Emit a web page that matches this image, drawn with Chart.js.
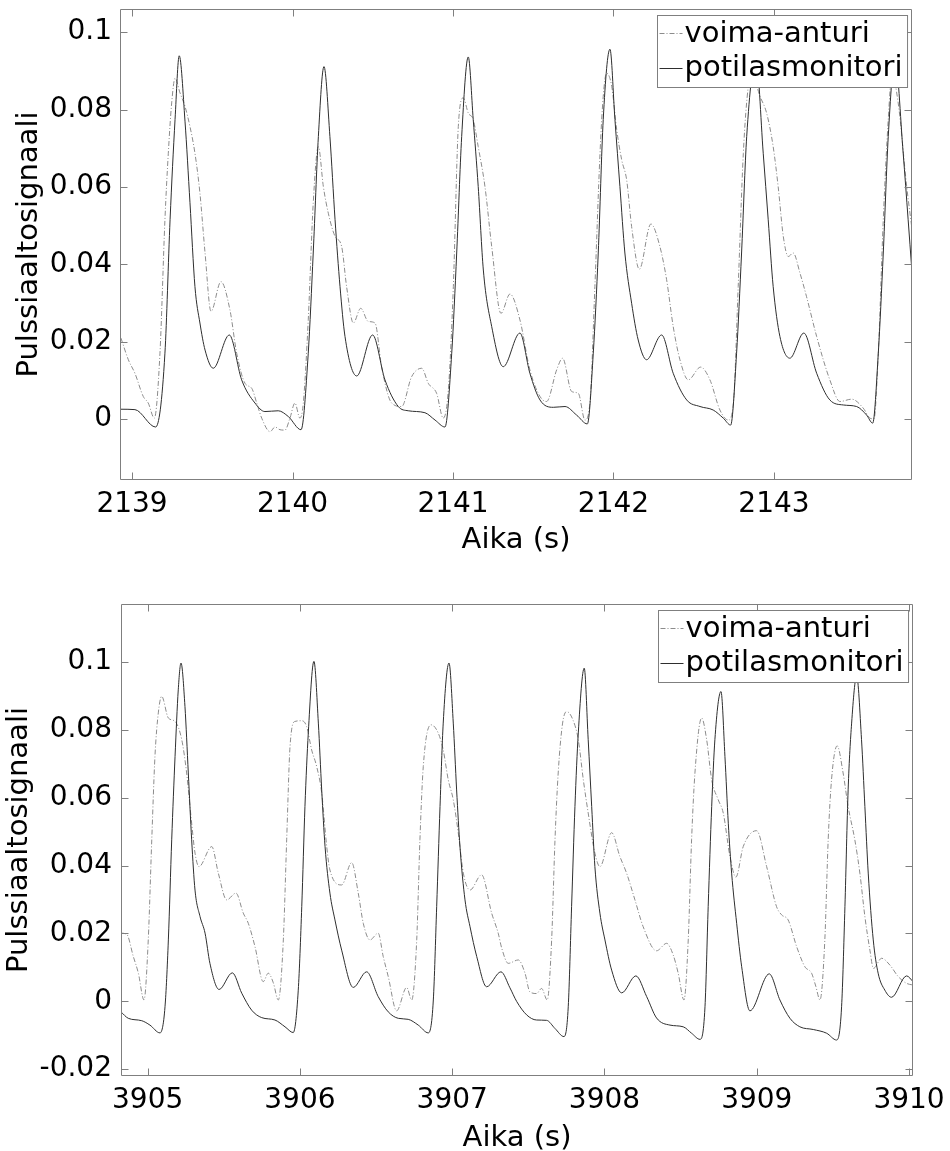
<!DOCTYPE html>
<html>
<head>
<meta charset="utf-8">
<script src="https://cdn.jsdelivr.net/npm/chart.js@4.4.0/dist/chart.umd.min.js"></script>
<style>
  html, body { margin: 0; padding: 0; background: #fff; }
  #wrap { position: relative; width: 950px; height: 1151px; }
  canvas { position: absolute; left: 0; }
</style>
</head>
<body>
<div id="wrap">
  <canvas id="chartTop" width="950" height="575" style="top:0"></canvas>
  <canvas id="chartBottom" width="950" height="576" style="top:575px"></canvas>
</div>
<script>
// Series names (legend)
const seriesLabels = ['voima-anturi', 'potilasmonitori'];

// Top panel, time axis ticks and value ticks
const topXTicks = [2139, 2140, 2141, 2142, 2143];
const topYTicks = [0, 0.02, 0.04, 0.06, 0.08, 0.1];

// Top panel, voima-anturi (dash-dot)
const topSensorT = [2138.931, 2138.977, 2139.018, 2139.070, 2139.101, 2139.139, 2139.174, 2139.205, 2139.226, 2139.247,
  2139.268, 2139.299, 2139.330, 2139.361, 2139.392, 2139.423, 2139.455, 2139.492, 2139.554, 2139.610,
  2139.652, 2139.704, 2139.746, 2139.777, 2139.808, 2139.860, 2139.891, 2139.922, 2139.953, 2139.984,
  2140.015, 2140.046, 2140.067, 2140.098, 2140.129, 2140.161, 2140.192, 2140.223, 2140.265, 2140.306,
  2140.337, 2140.379, 2140.425, 2140.472, 2140.514, 2140.555, 2140.618, 2140.680, 2140.742, 2140.805,
  2140.846, 2140.898, 2140.939, 2140.971, 2141.002, 2141.033, 2141.064, 2141.095, 2141.126, 2141.157,
  2141.199, 2141.241, 2141.299, 2141.355, 2141.417, 2141.479, 2141.542, 2141.583, 2141.646, 2141.683,
  2141.739, 2141.781, 2141.822, 2141.853, 2141.884, 2141.916, 2141.936, 2141.957, 2141.989, 2142.020,
  2142.051, 2142.082, 2142.113, 2142.161, 2142.233, 2142.289, 2142.331, 2142.372, 2142.414, 2142.466,
  2142.543, 2142.601, 2142.663, 2142.715, 2142.747, 2142.777, 2142.809, 2142.840, 2142.863, 2142.913,
  2142.954, 2142.995, 2143.026, 2143.058, 2143.089, 2143.120, 2143.162, 2143.203, 2143.266, 2143.348,
  2143.411, 2143.484, 2143.556, 2143.598, 2143.623, 2143.650, 2143.681, 2143.712, 2143.735, 2143.774,
  2143.827, 2143.858];
const topSensorV = [0.0209, 0.0153, 0.0118, 0.0058, 0.0041, 0.0002, 0.0170, 0.0515, 0.0687, 0.0817,
  0.0881, 0.0843, 0.0808, 0.0756, 0.0687, 0.0584, 0.0429, 0.0278, 0.0355, 0.0282,
  0.0170, 0.0092, 0.0079, 0.0041, 0.0002, -0.0033, -0.0021, -0.0028, -0.0029, 0.0002,
  0.0041, 0.0002, 0.0040, 0.0256, 0.0558, 0.0704, 0.0601, 0.0532, 0.0472, 0.0446,
  0.0342, 0.0248, 0.0286, 0.0252, 0.0248, 0.0135, 0.0041, 0.0032, 0.0109, 0.0131,
  0.0092, 0.0066, 0.0002, 0.0075, 0.0342, 0.0756, 0.0830, 0.0791, 0.0774, 0.0704,
  0.0601, 0.0446, 0.0273, 0.0323, 0.0256, 0.0127, 0.0058, 0.0045, 0.0127, 0.0157,
  0.0071, 0.0066, -0.0003, 0.0041, 0.0342, 0.0687, 0.0834, 0.0894, 0.0860, 0.0748,
  0.0670, 0.0618, 0.0497, 0.0387, 0.0504, 0.0446, 0.0360, 0.0239, 0.0153, 0.0101,
  0.0134, 0.0101, 0.0023, -0.0003, 0.0040, 0.0342, 0.0687, 0.0860, 0.0890, 0.0834,
  0.0791, 0.0704, 0.0601, 0.0472, 0.0420, 0.0429, 0.0377, 0.0316, 0.0213, 0.0101,
  0.0045, 0.0051, 0.0028, 0.0002, 0.0000, 0.0170, 0.0515, 0.0774, 0.0890, 0.0817,
  0.0601, 0.0497];

// Top panel, potilasmonitori (solid)
const topMonitorT = [2138.931, 2139.018, 2139.147, 2139.205, 2139.237, 2139.268, 2139.294, 2139.330, 2139.361, 2139.392,
  2139.423, 2139.455, 2139.506, 2139.606, 2139.683, 2139.766, 2139.828, 2139.911, 2139.974, 2140.053,
  2140.098, 2140.129, 2140.161, 2140.196, 2140.233, 2140.265, 2140.296, 2140.327, 2140.400, 2140.499,
  2140.576, 2140.659, 2140.721, 2140.825, 2140.888, 2140.950, 2140.992, 2141.023, 2141.054, 2141.095,
  2141.126, 2141.157, 2141.189, 2141.241, 2141.313, 2141.417, 2141.479, 2141.542, 2141.625, 2141.698,
  2141.770, 2141.837, 2141.874, 2141.905, 2141.936, 2141.978, 2142.009, 2142.040, 2142.071, 2142.113,
  2142.154, 2142.206, 2142.300, 2142.372, 2142.456, 2142.539, 2142.621, 2142.684, 2142.730, 2142.767,
  2142.798, 2142.830, 2142.888, 2142.933, 2142.964, 2142.995, 2143.037, 2143.099, 2143.186, 2143.266,
  2143.348, 2143.432, 2143.515, 2143.577, 2143.615, 2143.650, 2143.681, 2143.712, 2143.754, 2143.805,
  2143.836, 2143.859];
const topMonitorV = [0.0025, 0.0024, -0.0021, 0.0170, 0.0515, 0.0774, 0.0939, 0.0770, 0.0559, 0.0342,
  0.0248, 0.0178, 0.0131, 0.0217, 0.0101, 0.0041, 0.0019, 0.0021, 0.0006, -0.0028,
  0.0170, 0.0429, 0.0730, 0.0911, 0.0730, 0.0515, 0.0342, 0.0213, 0.0111, 0.0217,
  0.0101, 0.0032, 0.0021, 0.0016, -0.0003, -0.0021, 0.0170, 0.0429, 0.0730, 0.0936,
  0.0774, 0.0601, 0.0385, 0.0239, 0.0135, 0.0222, 0.0118, 0.0049, 0.0030, 0.0032,
  0.0010, -0.0013, 0.0170, 0.0429, 0.0774, 0.0956, 0.0774, 0.0601, 0.0429, 0.0299,
  0.0204, 0.0153, 0.0217, 0.0118, 0.0049, 0.0032, 0.0023, 0.0002, -0.0016, 0.0170,
  0.0429, 0.0730, 0.0930, 0.0687, 0.0515, 0.0342, 0.0213, 0.0157, 0.0222, 0.0118,
  0.0049, 0.0036, 0.0032, 0.0010, -0.0011, 0.0170, 0.0429, 0.0730, 0.0930, 0.0687,
  0.0515, 0.0385];

// Bottom panel ticks
const bottomXTicks = [3905, 3906, 3907, 3908, 3909, 3910];
const bottomYTicks = [-0.02, 0, 0.02, 0.04, 0.06, 0.08, 0.1];

// Bottom panel, voima-anturi (dash-dot)
const bottomSensorT = [3904.825, 3904.862, 3904.906, 3904.939, 3904.976, 3905.004, 3905.027, 3905.048, 3905.070, 3905.092,
  3905.136, 3905.180, 3905.224, 3905.256, 3905.289, 3905.311, 3905.337, 3905.421, 3905.464, 3905.519,
  3905.580, 3905.628, 3905.661, 3905.705, 3905.759, 3905.792, 3905.825, 3905.858, 3905.891, 3905.913,
  3905.935, 3905.968, 3906.012, 3906.044, 3906.077, 3906.110, 3906.143, 3906.176, 3906.197, 3906.274,
  3906.340, 3906.383, 3906.416, 3906.460, 3906.514, 3906.547, 3906.580, 3906.635, 3906.701, 3906.734,
  3906.767, 3906.788, 3906.810, 3906.861, 3906.908, 3906.941, 3906.974, 3907.007, 3907.040, 3907.073,
  3907.117, 3907.193, 3907.259, 3907.302, 3907.325, 3907.368, 3907.434, 3907.478, 3907.510, 3907.554,
  3907.587, 3907.624, 3907.653, 3907.675, 3907.696, 3907.725, 3907.752, 3907.795, 3907.828, 3907.861,
  3907.893, 3907.937, 3907.970, 3908.047, 3908.101, 3908.145, 3908.200, 3908.254, 3908.342, 3908.408,
  3908.451, 3908.484, 3908.522, 3908.550, 3908.572, 3908.594, 3908.638, 3908.671, 3908.704, 3908.747,
  3908.780, 3908.824, 3908.863, 3908.911, 3908.999, 3909.065, 3909.130, 3909.163, 3909.206, 3909.262,
  3909.316, 3909.360, 3909.388, 3909.415, 3909.447, 3909.469, 3909.491, 3909.528, 3909.567, 3909.600,
  3909.644, 3909.677, 3909.710, 3909.743, 3909.766, 3909.820, 3909.874, 3909.929, 3909.984, 3910.027];
const bottomSensorV = [0.0201, 0.0198, 0.0132, 0.0083, 0.0004, 0.0181, 0.0476, 0.0722, 0.0850, 0.0899,
  0.0835, 0.0825, 0.0771, 0.0673, 0.0525, 0.0437, 0.0397, 0.0456, 0.0378, 0.0299,
  0.0319, 0.0260, 0.0230, 0.0161, 0.0058, 0.0083, 0.0055, 0.0004, 0.0181, 0.0476,
  0.0751, 0.0825, 0.0827, 0.0810, 0.0741, 0.0692, 0.0614, 0.0456, 0.0387, 0.0343,
  0.0409, 0.0319, 0.0230, 0.0181, 0.0201, 0.0132, 0.0073, -0.0028, 0.0041, 0.0004,
  0.0181, 0.0476, 0.0692, 0.0815, 0.0791, 0.0741, 0.0653, 0.0594, 0.0496, 0.0378,
  0.0328, 0.0373, 0.0260, 0.0201, 0.0157, 0.0112, 0.0122, 0.0083, 0.0028, 0.0023,
  0.0038, 0.0004, 0.0181, 0.0476, 0.0673, 0.0820, 0.0854, 0.0827, 0.0771, 0.0653,
  0.0555, 0.0437, 0.0397, 0.0497, 0.0427, 0.0378, 0.0299, 0.0220, 0.0149, 0.0171,
  0.0137, 0.0083, 0.0004, 0.0181, 0.0476, 0.0673, 0.0835, 0.0771, 0.0653, 0.0594,
  0.0555, 0.0427, 0.0366, 0.0456, 0.0503, 0.0397, 0.0279, 0.0255, 0.0240, 0.0161,
  0.0102, 0.0083, 0.0044, 0.0004, 0.0181, 0.0476, 0.0653, 0.0753, 0.0673, 0.0574,
  0.0476, 0.0378, 0.0250, 0.0151, 0.0097, 0.0127, 0.0107, 0.0073, 0.0053, 0.0048];

// Bottom panel, potilasmonitori (solid)
const bottomMonitorT = [3904.825, 3904.873, 3904.961, 3905.015, 3905.081, 3905.114, 3905.136, 3905.158, 3905.180, 3905.201,
  3905.219, 3905.245, 3905.267, 3905.289, 3905.311, 3905.344, 3905.377, 3905.409, 3905.469, 3905.556,
  3905.618, 3905.683, 3905.749, 3905.836, 3905.902, 3905.956, 3905.989, 3906.012, 3906.033, 3906.055,
  3906.092, 3906.121, 3906.143, 3906.165, 3906.197, 3906.230, 3906.274, 3906.350, 3906.438, 3906.514,
  3906.580, 3906.646, 3906.711, 3906.777, 3906.843, 3906.876, 3906.898, 3906.920, 3906.941, 3906.979,
  3907.007, 3907.029, 3907.051, 3907.084, 3907.117, 3907.161, 3907.226, 3907.320, 3907.379, 3907.423,
  3907.489, 3907.554, 3907.620, 3907.675, 3907.734, 3907.762, 3907.784, 3907.806, 3907.828, 3907.867,
  3907.893, 3907.916, 3907.937, 3907.970, 3908.003, 3908.047, 3908.113, 3908.206, 3908.277, 3908.342,
  3908.430, 3908.517, 3908.572, 3908.627, 3908.660, 3908.681, 3908.704, 3908.725, 3908.765, 3908.791,
  3908.813, 3908.835, 3908.868, 3908.901, 3908.955, 3909.082, 3909.152, 3909.218, 3909.283, 3909.371,
  3909.459, 3909.524, 3909.557, 3909.579, 3909.600, 3909.623, 3909.656, 3909.688, 3909.710, 3909.732,
  3909.765, 3909.797, 3909.841, 3909.885, 3909.984, 3910.027];
const bottomMonitorV = [-0.0031, -0.0050, -0.0057, -0.0070, -0.0093, -0.0016, 0.0181, 0.0476, 0.0722, 0.0918,
  0.0997, 0.0869, 0.0673, 0.0476, 0.0328, 0.0250, 0.0201, 0.0112, 0.0035, 0.0084,
  0.0024, -0.0026, -0.0048, -0.0055, -0.0075, -0.0092, 0.0033, 0.0279, 0.0574, 0.0791,
  0.1002, 0.0820, 0.0623, 0.0456, 0.0319, 0.0240, 0.0151, 0.0041, 0.0087, 0.0014,
  -0.0031, -0.0050, -0.0053, -0.0070, -0.0093, 0.0004, 0.0279, 0.0574, 0.0820, 0.0997,
  0.0820, 0.0623, 0.0456, 0.0299, 0.0220, 0.0132, 0.0043, 0.0087, 0.0040, 0.0000,
  -0.0040, -0.0055, -0.0056, -0.0080, -0.0104, -0.0016, 0.0279, 0.0574, 0.0791, 0.0982,
  0.0771, 0.0574, 0.0397, 0.0260, 0.0181, 0.0092, 0.0025, 0.0075, 0.0014, -0.0049,
  -0.0070, -0.0075, -0.0094, -0.0112, -0.0016, 0.0279, 0.0574, 0.0771, 0.0913, 0.0722,
  0.0525, 0.0378, 0.0230, 0.0102, -0.0028, 0.0081, 0.0004, -0.0050, -0.0075, -0.0083,
  -0.0094, -0.0114, -0.0016, 0.0279, 0.0623, 0.0820, 0.0958, 0.0771, 0.0574, 0.0378,
  0.0181, 0.0083, 0.0033, 0.0012, 0.0075, 0.0058];

const FONT = 'DejaVu Sans';
const AXIS_GRAY = '#7f7f7f';

// Draws the axes box, inward tick marks on all four sides and the legend inside the plot
const framePlugin = {
  id: 'frame',
  afterDraw(chart) {
    const { ctx, chartArea: a, scales } = chart;
    const L = Math.round(a.left) + 0.5, R = Math.round(a.right) - 0.5;
    const T = Math.round(a.top) + 0.5, B = Math.round(a.bottom) - 0.5;
    const tick = 7;
    ctx.save();
    ctx.strokeStyle = AXIS_GRAY;
    ctx.lineWidth = 1;
    ctx.beginPath();
    ctx.rect(L, T, R - L, B - T);
    scales.x.ticks.forEach(t => {
      const px = Math.round(scales.x.getPixelForValue(t.value)) + 0.5;
      ctx.moveTo(px, B); ctx.lineTo(px, B - tick);
      ctx.moveTo(px, T); ctx.lineTo(px, T + tick);
    });
    scales.y.ticks.forEach(t => {
      const py = Math.round(scales.y.getPixelForValue(t.value)) + 0.5;
      ctx.moveTo(L, py); ctx.lineTo(L + tick, py);
      ctx.moveTo(R, py); ctx.lineTo(R - tick, py);
    });
    ctx.stroke();

    // legend
    const sets = chart.data.datasets;
    ctx.font = '29px "' + FONT + '"';
    const textW = Math.max(...sets.map(d => ctx.measureText(d.label).width));
    const boxW = 27 + textW + 5, boxH = 72;
    const bx = Math.round(a.right - 5 - boxW) + 0.5, by = Math.round(a.top + 6) + 0.5;
    ctx.fillStyle = '#fff';
    ctx.fillRect(bx, by, boxW, boxH);
    ctx.strokeRect(bx, by, boxW, boxH);
    sets.forEach((d, i) => {
      const cy = by + 18.5 + i * 34.5;
      ctx.beginPath();
      ctx.strokeStyle = d.borderColor;
      ctx.setLineDash(d.borderDash || []);
      ctx.moveTo(bx + 2, Math.round(cy) - 0.5);
      ctx.lineTo(bx + 25, Math.round(cy) - 0.5);
      ctx.stroke();
      ctx.setLineDash([]);
      ctx.fillStyle = '#000';
      ctx.textBaseline = 'middle';
      ctx.textAlign = 'left';
      ctx.fillText(d.label, bx + 27, cy);
    });
    ctx.restore();
  }
};

function toPoints(t, v) {
  return t.map((x, i) => ({ x: x, y: v[i] }));
}

// keep the plot box where the layout padding puts it, labels may hang over the edges
function noScalePadding(s) {
  s.paddingTop = 0; s.paddingBottom = 0; s.paddingLeft = 0; s.paddingRight = 0;
}

function makeChart(id, cfg) {
  return new Chart(document.getElementById(id), {
    type: 'line',
    data: {
      datasets: [{
        label: seriesLabels[0],
        data: toPoints(cfg.sensorT, cfg.sensorV),
        borderColor: '#8c8c8c',
        borderWidth: 1,
        borderDash: [5, 2, 1, 2],
        pointRadius: 0,
        cubicInterpolationMode: 'monotone',
        order: 2
      }, {
        label: seriesLabels[1],
        data: toPoints(cfg.monitorT, cfg.monitorV),
        borderColor: '#2e2e2e',
        borderWidth: 1,
        pointRadius: 0,
        cubicInterpolationMode: 'monotone',
        order: 1
      }]
    },
    options: {
      responsive: false,
      animation: false,
      events: [],
      layout: { padding: cfg.padding },
      plugins: { legend: { display: false }, tooltip: { enabled: false } },
      scales: {
        x: {
          type: 'linear',
          min: cfg.xMin,
          max: cfg.xMax,
          afterBuildTicks: s => { s.ticks = cfg.xTicks.map(v => ({ value: v })); },
          afterFit: s => { s.height = cfg.xHeight; noScalePadding(s); },
          grid: { display: false, drawTicks: false },
          border: { display: false },
          ticks: {
            autoSkip: false, maxRotation: 0, padding: 11, color: '#000',
            font: { family: FONT, size: 28, lineHeight: 1 },
            callback: v => String(v)
          },
          title: {
            display: true, text: 'Aika (s)', color: '#000',
            font: { family: FONT, size: 29, lineHeight: 1 },
            padding: { top: 0, bottom: cfg.xTitlePad }
          }
        },
        y: {
          type: 'linear',
          min: cfg.yMin,
          max: cfg.yMax,
          afterBuildTicks: s => { s.ticks = cfg.yTicks.map(v => ({ value: v })); },
          afterFit: s => { s.width = cfg.yWidth; noScalePadding(s); },
          grid: { display: false, drawTicks: false },
          border: { display: false },
          ticks: {
            autoSkip: false, padding: cfg.yTickPad, color: '#000',
            font: { family: FONT, size: 28, lineHeight: 1 },
            callback: v => String(v)
          },
          title: {
            display: true, text: 'Pulssiaaltosignaali', color: '#000',
            font: { family: FONT, size: 29, lineHeight: 1 },
            padding: { top: cfg.yTitlePad, bottom: 0 }
          }
        }
      }
    },
    plugins: [framePlugin]
  });
}

makeChart('chartTop', {
  sensorT: topSensorT, sensorV: topSensorV,
  monitorT: topMonitorT, monitorV: topMonitorV,
  xTicks: topXTicks, yTicks: topYTicks,
  xMin: 2138.925, xMax: 2143.86, yMin: -0.0158, yMax: 0.106,
  padding: { left: 0, right: 38, top: 9, bottom: 0 },
  xHeight: 95, yWidth: 120, xTitlePad: 20, yTitlePad: 15, yTickPad: 8
});

makeChart('chartBottom', {
  sensorT: bottomSensorT, sensorV: bottomSensorV,
  monitorT: bottomMonitorT, monitorV: bottomMonitorV,
  xTicks: bottomXTicks, yTicks: bottomYTicks,
  xMin: 3904.825, xMax: 3910.026, yMin: -0.022, yMax: 0.1171,
  padding: { left: 0, right: 37, top: 29, bottom: 0 },
  xHeight: 75, yWidth: 121, xTitlePad: -2, yTitlePad: 5, yTickPad: 9
});
</script>
</body>
</html>
